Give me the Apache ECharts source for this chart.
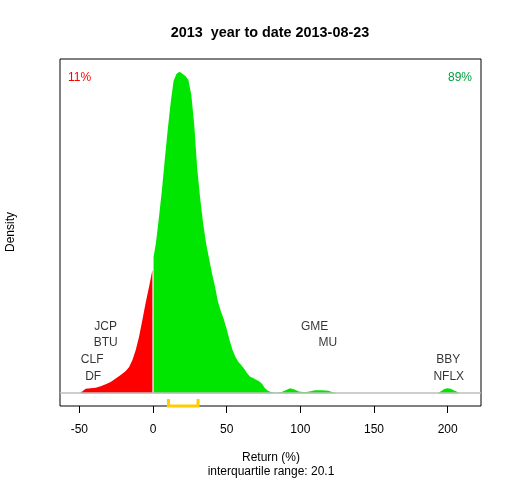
<!DOCTYPE html>
<html>
<head>
<meta charset="utf-8">
<script src="https://cdn.jsdelivr.net/npm/echarts@6/dist/echarts.min.js"></script>
<style>
html,body{margin:0;padding:0;background:#fff;}
#chart{width:512px;height:480px;}
</style>
</head>
<body>
<div id="chart"></div>
<script>
// ---- data ----
const titleText = "2013  year to date 2013-08-23";
const xTicks = [-50, 0, 50, 100, 150, 200];

// density of negative returns (red)
const redX = [-49.5, -49, -45.7, -42.3, -38.9, -35.5, -32.1, -28.7, -25.3, -21.9, -18.5, -16.3, -14, -11.7, -9.5, -7.2, -5, -2.7, -0.4];
const redY = [0, 0.0001, 0.00047, 0.00052, 0.00057, 0.00073, 0.00094, 0.00115, 0.00153, 0.00188, 0.0023, 0.00271, 0.00344, 0.00449, 0.00585, 0.00762, 0.0094, 0.01107, 0.01284];

// density of positive returns (green)
const greenX = [0.4, 2, 4, 6, 8, 10, 12, 14, 16, 18, 20, 22, 24, 26, 28, 30, 32, 34, 36, 38, 40, 42, 44, 46, 48, 50, 52, 54, 56, 58, 60, 62, 64, 66, 68, 70, 72, 74, 76, 78, 80, 83, 87, 90, 93, 96, 99, 103, 107, 110, 115, 119, 122, 125, 193, 196, 198, 200, 202, 204, 206, 208];
const greenY = [0.0142, 0.01566, 0.01827, 0.02109, 0.02433, 0.02746, 0.03028, 0.03257, 0.0333, 0.03351, 0.0333, 0.03309, 0.03268, 0.03111, 0.02798, 0.02349, 0.02036, 0.01775, 0.01566, 0.01409, 0.01253, 0.01117, 0.0096, 0.00856, 0.00773, 0.00668, 0.00553, 0.00449, 0.00376, 0.00324, 0.00292, 0.00251, 0.00204, 0.00172, 0.00157, 0.00141, 0.00125, 0.00099, 0.00052, 0.00026, 0.00013, 0.00005, 0.0001, 0.00031, 0.00052, 0.00037, 0.00016, 0.0001, 0.00021, 0.00031, 0.00031, 0.00026, 0.0001, 0, 0, 0.00026, 0.00047, 0.00052, 0.00047, 0.00031, 0.00016, 0];

// interquartile range
const iqr = [10.5, 30.6];
const iqrText = "interquartile range: 20.1";

// share of negative / positive returns
const negShare = "11%";
const posShare = "89%";

// extreme tickers: names, returns (x) and stacking row
const tickerNames = ["JCP", "BTU", "CLF", "DF", "GME", "MU", "BBY", "NFLX"];
const tickerX = [-32.1, -32.1, -41.3, -40.6, 109.7, 118.6, 200.3, 200.7];
const tickerRow = [4, 3, 2, 1, 4, 3, 2, 1];

// ---- chart ----
const peak = Math.max(...greenY, ...redY);
const yMin = -0.04 * peak, yMax = 1.04 * peak;
const xMin = -63.1, xMax = 222.6;
const gridTop = 59, gridBottom = 74, gridLeft = 60, gridRight = 31;
const plotH = 480 - gridTop - gridBottom;
const pxToY = (yMax - yMin) / plotH;
const rowStep = 16.7 * pxToY;

const FONT = '"Liberation Sans", Arial, sans-serif';

const chart = echarts.init(document.getElementById('chart'), null, {renderer: 'canvas'});
const zip = (a, b) => a.map((v, i) => [v, b[i]]);

chart.setOption({
  animation: false,
  backgroundColor: '#ffffff',
  grid: {left: gridLeft, right: gridRight, top: gridTop, bottom: gridBottom, show: true,
         borderColor: '#000', borderWidth: 1, backgroundColor: 'transparent'},
  xAxis: {
    type: 'value', min: xMin, max: xMax, position: 'bottom',
    axisLine: {show: false, onZero: false},
    splitLine: {show: false},
    axisTick: {show: true, length: 7, inside: false, customValues: xTicks, lineStyle: {color: '#000', width: 1}},
    axisLabel: {show: true, customValues: xTicks, color: '#000', fontSize: 12, fontFamily: FONT, margin: 18}
  },
  yAxis: {type: 'value', min: yMin, max: yMax, show: false, splitLine: {show: false}},
  series: [
    {
      type: 'line', data: zip(redX, redY), showSymbol: false, symbol: 'none',
      lineStyle: {width: 0, color: '#FF0000'}, itemStyle: {color: '#FF0000'},
      areaStyle: {color: '#FF0000', opacity: 1}, z: 2,
      markLine: {
        silent: true, symbol: ['none', 'none'], label: {show: false},
        lineStyle: {color: '#BEBEBE', type: 'solid', width: 1.5},
        data: [{yAxis: 0}], animation: false
      }
    },
    {
      type: 'line', data: zip(greenX, greenY), showSymbol: false, symbol: 'none',
      lineStyle: {width: 0, color: '#00E600'}, itemStyle: {color: '#00E600'},
      areaStyle: {color: '#00E600', opacity: 1}, z: 2
    },
    {
      type: 'line', clip: false, showSymbol: false, symbol: 'none', z: 5,
      data: [[iqr[0], yMin + 7 * pxToY], [iqr[0], yMin], [iqr[1], yMin], [iqr[1], yMin + 7 * pxToY]],
      lineStyle: {color: '#FFCC00', width: 3, cap: 'butt', join: 'miter'}
    },
    {
      type: 'scatter', symbolSize: 0, z: 6,
      data: tickerNames.map((n, i) => ({name: n, value: [tickerX[i], tickerRow[i] * rowStep]})),
      label: {show: true, position: 'inside', formatter: '{b}', color: '#000', fontSize: 12, fontFamily: FONT}
    }
  ],
  graphic: [
    {type: 'text', x: 270, y: 33, style: {text: titleText, font: 'bold 14.4px ' + FONT, fill: '#000', textAlign: 'center', textVerticalAlign: 'middle'}},
    {type: 'text', x: 68, y: 72, style: {text: negShare, font: '12px ' + FONT, fill: '#FF0000'}},
    {type: 'text', x: 472, y: 72, style: {text: posShare, font: '12px ' + FONT, fill: '#00A040', textAlign: 'right'}},
    {type: 'text', x: 5, y: 232, rotation: Math.PI / 2, style: {text: 'Density', font: '12px ' + FONT, fill: '#000', textAlign: 'center', textVerticalAlign: 'top'}},
    {type: 'text', x: 271, y: 458, style: {text: 'Return (%)', font: '12px ' + FONT, fill: '#000', textAlign: 'center', textVerticalAlign: 'middle'}},
    {type: 'text', x: 271, y: 471.5, style: {text: iqrText, font: '12px ' + FONT, fill: '#000', textAlign: 'center', textVerticalAlign: 'middle'}}
  ]
});
</script>
</body>
</html>
